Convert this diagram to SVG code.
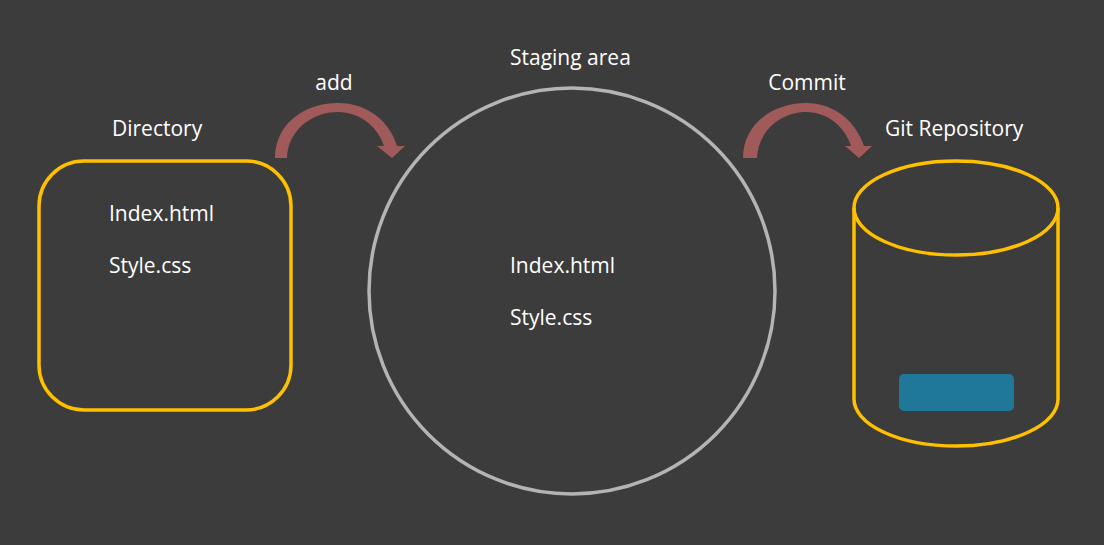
<svg xmlns="http://www.w3.org/2000/svg" width="1104" height="545" viewBox="0 0 1104 545">
<style>
text{font-family:"Open Sans","Liberation Sans",sans-serif;font-size:21px;fill:#ffffff}
.y{fill:none;stroke:#ffc000;stroke-width:3.5}
.arr{fill:#a05a5a}
</style>
<rect width="1104" height="545" fill="#3c3c3c"/>
<g id="directory">
<rect class="y" x="39" y="161" width="252" height="249" rx="45"/>
<text x="112" y="136">Directory</text>
<text x="109" y="221">Index.html</text>
<text x="109" y="273">Style.css</text>
</g>
<g id="staging">
<circle cx="572" cy="291" r="203" fill="none" stroke="#b4b4b4" stroke-width="3.5"/>
<text x="510" y="65">Staging area</text>
<text x="510" y="273">Index.html</text>
<text x="510" y="325">Style.css</text>
</g>
<g id="repository">
<path class="y" d="M854 208 L854 399 A102 47 0 0 0 1058 399 L1058 208"/>
<ellipse class="y" cx="956" cy="208" rx="102" ry="47"/>
<rect x="899" y="374" width="115" height="37" rx="5" fill="#1f7899"/>
<text x="885" y="136">Git Repository</text>
</g>
<g id="connectors">
<path class="arr" d="M275 158 C275 125 303 103 338 103 C368 103 390 122 397 146 L405 146 L392 158 L377 146 L384 146 C378 127 360 112 338 112 C312 112 288 130 287 158 Z"/>
<text x="334" y="90" text-anchor="middle">add</text>
<path class="arr" d="M743 158 C743 125 772 103 806 103 C835 103 856 122 864 146 L872 146 L859 158 L845 146 L851 146 C845 127 828 112 806 112 C782 112 758 130 757 158 Z"/>
<text x="807" y="90" text-anchor="middle">Commit</text>
</g>
</svg>
